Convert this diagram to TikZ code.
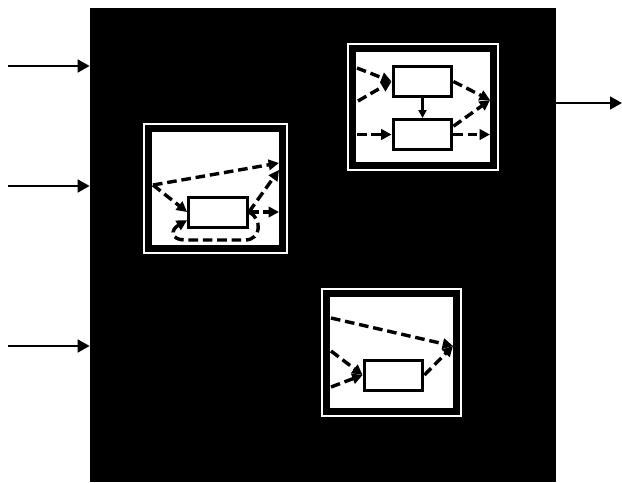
\documentclass[tikz,border=0pt]{standalone}
\usetikzlibrary{arrows.meta, positioning, calc}
\tikzset{
  sysbox/.style={rectangle, fill=black, draw=none, inner sep=0pt,
                 minimum width=11.65cm, minimum height=11.85cm},
  subframe/.style={rectangle, fill=white, draw=white, double=black,
                   line width=0.05cm, double distance=0.18cm, inner sep=0pt},
  unit/.style={rectangle, fill=white, draw=black, line width=0.075cm,
               minimum width=1.47cm, minimum height=0.75cm, inner sep=0pt},
  sig/.style={-{Triangle[length=0.3cm, width=0.32cm]}, line width=0.055cm},
  flow/.style={-{Triangle[length=0.26cm, width=0.26cm]}, line width=0.085cm,
               dash pattern=on 0.24cm off 0.12cm},
  link/.style={-{Triangle[length=0.2cm, width=0.2cm]}, line width=0.055cm},
}
\begin{document}
\begin{tikzpicture}[x=0.025cm, y=-0.025cm]
      \useasboundingbox (0,0) rectangle (622,482);

      % System block
      \node[sysbox] (sys) at (323,245) {};

      % Input and output signals
      \coordinate (in1) at (8,66);
      \coordinate (in2) at (8,186);
      \coordinate (in3) at (8,346);
      \coordinate (out) at (622,103);
      \draw[sig] (in1) -- (in1 -| sys.west);
      \draw[sig] (in2) -- (in2 -| sys.west);
      \draw[sig] (in3) -- (in3 -| sys.west);
      \draw[sig] (out -| sys.east) -- (out);

      % Subsystem frames
      \node[subframe, minimum width=3.35cm, minimum height=3.0cm] (f1) at (215.5,188.5) {};
      \node[subframe, minimum width=3.525cm, minimum height=2.925cm] (f2) at (423,107) {};
      \node[subframe, minimum width=3.25cm, minimum height=2.95cm] (f3) at (391.5,352.5) {};

      % Units
      \node[unit] (u1) at (218,212) {};
      \node[unit] (u2a) at (422.5,81.5) {};
      \node[unit, below=0.5cm of u2a] (u2b) {};
      \node[unit] (u3) at (393.5,375) {};

      % Frame 1
      \coordinate (a1) at (153,185);
      \coordinate (a2) at (279,163);
      \coordinate (a3) at (279,170);
      \coordinate (a4) at (u1.east -| a2);
      \coordinate (a5) at ($(u1.west)!0.5!(u1.south west)$);
      \draw[flow] (a1) -- (a2);
      \draw[flow] (a1) -- (u1.west);
      \draw[flow] (u1.east) -- (a3);
      \draw[flow] (u1.east) -- (a4);
      \draw[flow] (u1.east) .. controls (262,218) and (262,240) .. (245,240)
                  -- (185,240) .. controls (171,240) and (170,230) .. (a5);

      % Frame 2
      \coordinate (b1) at (357,68);
      \coordinate (b2) at (358,101);
      \coordinate (b3) at (u2b.west -| b1);
      \coordinate (b4) at (490,100);
      \coordinate (b5) at (u2b.east -| b4);
      \draw[flow] (b1) -- (u2a.west);
      \draw[flow] (b2) -- (u2a.west);
      \draw[link] (u2a) -- (u2b);
      \draw[flow] (b3) -- (u2b.west);
      \draw[flow] (u2a.east) -- (b4);
      \draw[flow] (u2b.15) -- (b4);
      \draw[flow] (u2b.east) -- (b5);

      % Frame 3
      \coordinate (c1) at (331,318);
      \coordinate (c2) at (331,351);
      \coordinate (c3) at (331,387);
      \coordinate (c4) at (453,346);
      \draw[flow] (c1) -- (c4);
      \draw[flow] (c2) -- (u3.west);
      \draw[flow] (c3) -- (u3.west);
      \draw[flow] (u3.east) -- (c4);
\end{tikzpicture}
\end{document}
